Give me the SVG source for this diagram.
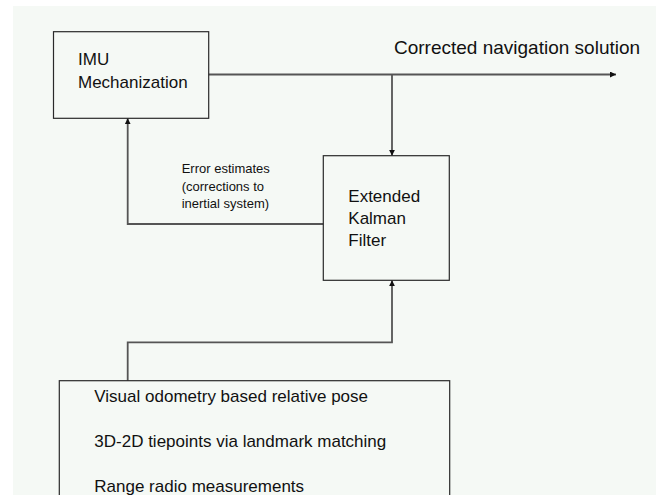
<svg xmlns="http://www.w3.org/2000/svg" width="667" height="495" viewBox="0 0 667 495">
  <style>
    .box { fill: none; stroke: #2a2a2a; stroke-width: 1.2; }
    .conn { fill: none; stroke: #555555; stroke-width: 1.8; }
    .t { font-family: "Liberation Sans", Arial, sans-serif; fill: #111111; }
    .t17 { font-size: 17px; }
    .t13 { font-size: 13px; }
    .t19 { font-size: 19px; }
  </style>
  <defs>
    <marker id="arrow" viewBox="0 0 6 6" refX="6" refY="3" markerWidth="6" markerHeight="6" markerUnits="userSpaceOnUse" orient="auto">
      <path d="M0,0 L6,3 L0,6 Z" fill="#111111"/>
    </marker>
  </defs>
  <rect x="0" y="0" width="667" height="495" fill="#ffffff"/>
  <rect x="13" y="6" width="643" height="489" fill="#f5f9f5"/>

  <g id="connectors">
    <path class="conn" d="M208.7,74.5 H616" marker-end="url(#arrow)"/>
    <path class="conn" d="M392,74.5 V155.7" marker-end="url(#arrow)"/>
    <path class="conn" d="M323.3,224 H127.7 V118.3" marker-end="url(#arrow)"/>
    <path class="conn" d="M127.7,380.7 V342.3 H392 V280.3" marker-end="url(#arrow)"/>
  </g>

  <g id="imu">
    <rect class="box" x="53.5" y="31.7" width="155.2" height="86.6"/>
    <text class="t t17" x="78" y="65">IMU</text>
    <text class="t t17" x="78" y="88">Mechanization</text>
  </g>

  <g id="ekf">
    <rect class="box" x="323.3" y="155.7" width="126" height="124.6"/>
    <text class="t t17" x="348.3" y="202.3">Extended</text>
    <text class="t t17" x="348.3" y="224">Kalman</text>
    <text class="t t17" x="348.3" y="245.7">Filter</text>
  </g>

  <g id="measurements">
    <rect class="box" x="59.3" y="380.7" width="390.4" height="130"/>
    <text class="t t17" x="94.3" y="401.5">Visual odometry based relative pose</text>
    <text class="t t17" x="94.3" y="447">3D-2D tiepoints via landmark matching</text>
    <text class="t t17" x="94.3" y="492">Range radio measurements</text>
  </g>

  <g id="labels">
    <text class="t t19" x="394" y="54.3">Corrected navigation solution</text>
    <text class="t t13" x="181.7" y="173.3">Error estimates</text>
    <text class="t t13" x="181.7" y="190.5">(corrections to</text>
    <text class="t t13" x="181.7" y="207.7">inertial system)</text>
  </g>
</svg>
